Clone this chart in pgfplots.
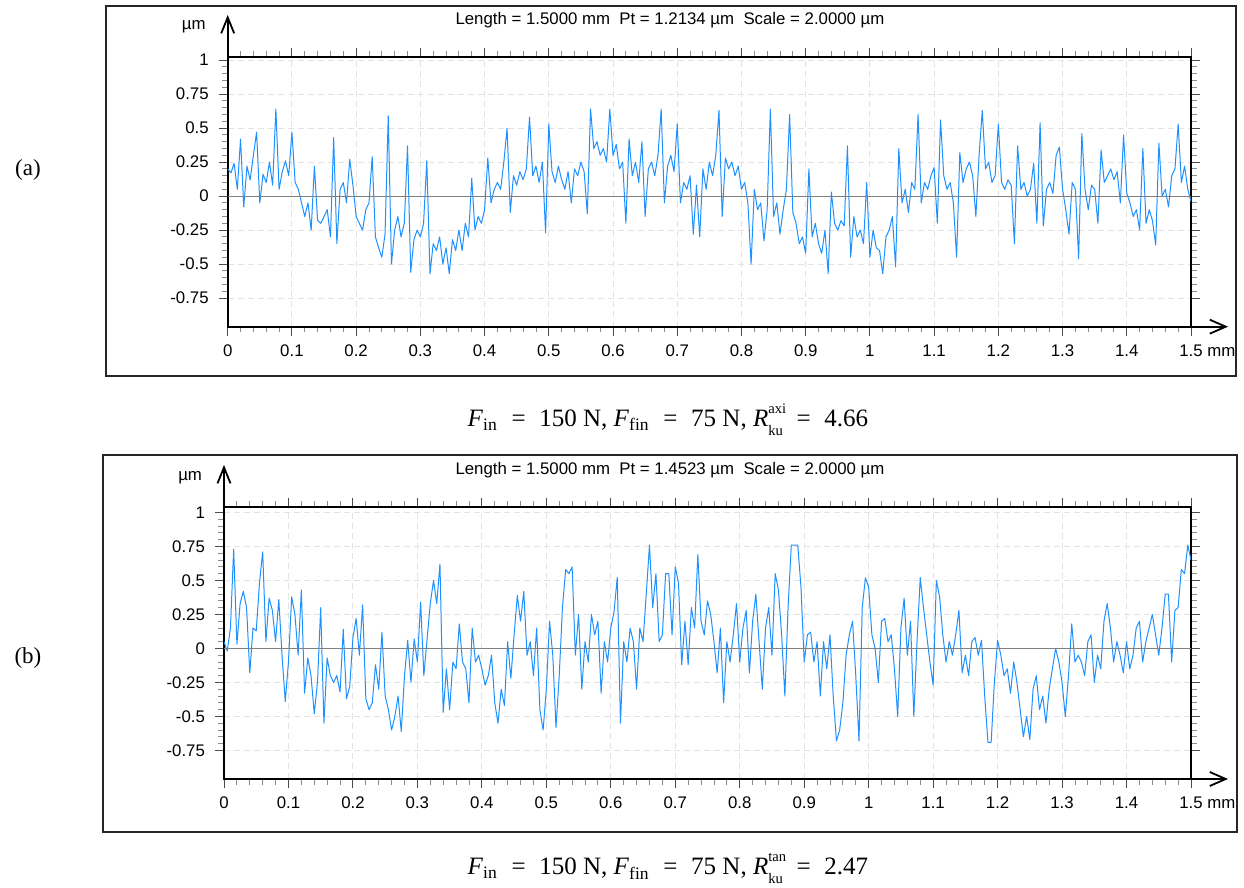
\documentclass[border=0pt]{standalone}
\usepackage{fontspec}
\setmainfont{Liberation Sans}
\newfontfamily\seriffont{Liberation Serif}
\usepackage{pgfplots}
\usepackage{pgfplotstable}
\pgfplotsset{compat=1.18}
\usetikzlibrary{arrows.meta}
\definecolor{profblue}{RGB}{30,144,255}
\newcommand{\eq}{\hspace{0.55em}=\hspace{0.55em}}
\newcommand{\supsub}[2]{\makebox[0pt][l]{\raisebox{0.52em}{\fontsize{7.3}{8}\selectfont #1}}\raisebox{-0.36em}{\fontsize{7.3}{8}\selectfont #2}}

\pgfplotstableread{
x y
0.000 0.20
0.005 0.17
0.010 0.24
0.015 0.05
0.020 0.42
0.025 -0.08
0.030 0.22
0.035 0.12
0.040 0.30
0.045 0.47
0.050 -0.05
0.055 0.16
0.060 0.10
0.065 0.25
0.070 0.08
0.075 0.64
0.080 0.05
0.085 0.18
0.090 0.26
0.095 0.15
0.100 0.47
0.105 0.10
0.110 0.05
0.115 -0.05
0.120 -0.15
0.125 -0.05
0.130 -0.25
0.135 0.22
0.140 -0.18
0.145 -0.20
0.150 -0.15
0.155 -0.10
0.160 -0.30
0.165 0.43
0.170 -0.35
0.175 0.05
0.180 0.10
0.185 -0.05
0.190 0.27
0.195 0.08
0.200 -0.15
0.205 -0.20
0.210 -0.25
0.215 -0.10
0.220 -0.05
0.225 0.29
0.230 -0.30
0.235 -0.38
0.240 -0.45
0.245 -0.28
0.250 0.59
0.255 -0.50
0.260 -0.25
0.265 -0.15
0.270 -0.30
0.275 -0.20
0.280 0.37
0.285 -0.56
0.290 -0.32
0.295 -0.25
0.300 -0.30
0.305 -0.20
0.310 0.26
0.315 -0.57
0.320 -0.35
0.325 -0.40
0.330 -0.30
0.335 -0.50
0.340 -0.38
0.345 -0.57
0.350 -0.32
0.355 -0.40
0.360 -0.25
0.365 -0.40
0.370 -0.20
0.375 -0.30
0.380 0.13
0.385 -0.25
0.390 -0.15
0.395 -0.20
0.400 -0.10
0.405 0.28
0.410 -0.05
0.415 0.05
0.420 0.10
0.425 0.05
0.430 0.25
0.435 0.50
0.440 -0.12
0.445 0.15
0.450 0.08
0.455 0.18
0.460 0.12
0.465 0.20
0.470 0.58
0.475 0.15
0.480 0.22
0.485 0.10
0.490 0.25
0.495 -0.27
0.500 0.53
0.505 0.18
0.510 0.10
0.515 0.22
0.520 0.12
0.525 0.05
0.530 0.18
0.535 -0.05
0.540 0.20
0.545 0.15
0.550 0.25
0.555 0.18
0.560 -0.13
0.565 0.64
0.570 0.35
0.575 0.40
0.580 0.30
0.585 0.35
0.590 0.25
0.595 0.64
0.600 0.30
0.605 0.38
0.610 0.20
0.615 0.25
0.620 -0.20
0.625 0.42
0.630 0.15
0.635 0.25
0.640 0.10
0.645 0.40
0.650 -0.15
0.655 0.20
0.660 0.25
0.665 0.15
0.670 0.30
0.675 0.64
0.680 -0.05
0.685 0.22
0.690 0.30
0.695 0.18
0.700 0.53
0.705 -0.05
0.710 0.10
0.715 0.05
0.720 0.15
0.725 -0.28
0.730 0.08
0.735 -0.30
0.740 0.20
0.745 0.05
0.750 0.25
0.755 0.15
0.760 0.30
0.765 0.63
0.770 -0.15
0.775 0.28
0.780 0.20
0.785 0.25
0.790 0.15
0.795 0.22
0.800 0.05
0.805 0.10
0.810 -0.05
0.815 -0.50
0.820 0.05
0.825 -0.10
0.830 -0.05
0.835 -0.33
0.840 -0.10
0.845 0.64
0.850 -0.15
0.855 -0.05
0.860 -0.28
0.865 -0.10
0.870 0.05
0.875 0.60
0.880 -0.12
0.885 -0.20
0.890 -0.35
0.895 -0.30
0.900 -0.42
0.905 0.20
0.910 -0.30
0.915 -0.20
0.920 -0.35
0.925 -0.42
0.930 -0.25
0.935 -0.57
0.940 0.03
0.945 -0.20
0.950 -0.25
0.955 -0.18
0.960 -0.22
0.965 0.37
0.970 -0.45
0.975 -0.15
0.980 -0.30
0.985 -0.25
0.990 -0.35
0.995 0.10
1.000 -0.45
1.005 -0.25
1.010 -0.38
1.015 -0.40
1.020 -0.57
1.025 -0.30
1.030 -0.25
1.035 -0.15
1.040 -0.52
1.045 0.35
1.050 -0.05
1.055 0.05
1.060 -0.12
1.065 0.10
1.070 0.05
1.075 0.60
1.080 -0.05
1.085 0.10
1.090 0.05
1.095 0.15
1.100 0.21
1.105 -0.20
1.110 0.56
1.115 0.15
1.120 0.05
1.125 0.10
1.130 -0.05
1.135 -0.45
1.140 0.32
1.145 0.10
1.150 0.20
1.155 0.25
1.160 0.15
1.165 -0.15
1.170 0.30
1.175 0.63
1.180 0.20
1.185 0.25
1.190 0.10
1.195 0.15
1.200 0.53
1.205 0.10
1.210 0.05
1.215 0.12
1.220 0.08
1.225 -0.35
1.230 0.37
1.235 0.05
1.240 0.10
1.245 0.00
1.250 0.05
1.255 0.24
1.260 -0.20
1.265 0.54
1.270 -0.22
1.275 0.05
1.280 0.10
1.285 0.02
1.290 0.30
1.295 0.36
1.300 0.05
1.305 -0.10
1.310 -0.28
1.315 0.10
1.320 0.05
1.325 -0.46
1.330 0.46
1.335 0.05
1.340 -0.10
1.345 0.08
1.350 0.05
1.355 -0.20
1.360 0.34
1.365 0.10
1.370 0.15
1.375 0.20
1.380 0.12
1.385 0.18
1.390 -0.05
1.395 0.45
1.400 0.02
1.405 -0.05
1.410 -0.15
1.415 -0.10
1.420 -0.25
1.425 0.35
1.430 -0.20
1.435 -0.10
1.440 -0.18
1.445 -0.36
1.450 0.39
1.455 0.00
1.460 0.05
1.465 -0.08
1.470 0.15
1.475 0.20
1.480 0.53
1.485 0.10
1.490 0.22
1.495 0.05
1.500 -0.04
}\dataA

\pgfplotstableread{
x y
0.000 0.05
0.005 -0.02
0.010 0.15
0.015 0.73
0.020 0.03
0.025 0.33
0.030 0.42
0.035 0.30
0.040 -0.18
0.045 0.15
0.050 0.13
0.055 0.48
0.060 0.71
0.065 0.05
0.070 0.37
0.075 0.28
0.080 0.05
0.085 0.36
0.090 -0.05
0.095 -0.39
0.100 -0.10
0.105 0.38
0.110 0.25
0.115 -0.05
0.120 0.43
0.125 -0.33
0.130 -0.07
0.135 -0.20
0.140 -0.48
0.145 -0.25
0.150 0.30
0.155 -0.55
0.160 -0.07
0.165 -0.20
0.170 -0.25
0.175 -0.20
0.180 -0.32
0.185 0.14
0.190 -0.37
0.195 -0.28
0.200 0.08
0.205 0.22
0.210 -0.05
0.215 0.32
0.220 -0.37
0.225 -0.45
0.230 -0.40
0.235 -0.12
0.240 -0.30
0.245 0.12
0.250 -0.35
0.255 -0.45
0.260 -0.60
0.265 -0.50
0.270 -0.35
0.275 -0.61
0.280 -0.20
0.285 0.06
0.290 -0.25
0.295 0.07
0.300 -0.10
0.305 0.34
0.310 -0.20
0.315 0.07
0.320 0.33
0.325 0.50
0.330 0.33
0.335 0.62
0.340 -0.47
0.345 -0.15
0.350 -0.45
0.355 -0.10
0.360 -0.15
0.365 0.18
0.370 -0.10
0.375 -0.15
0.380 -0.40
0.385 0.15
0.390 -0.10
0.395 -0.05
0.400 -0.15
0.405 -0.27
0.410 -0.20
0.415 -0.05
0.420 -0.40
0.425 -0.55
0.430 -0.30
0.435 -0.42
0.440 0.05
0.445 -0.22
0.450 0.10
0.455 0.39
0.460 0.20
0.465 0.42
0.470 -0.05
0.475 0.05
0.480 -0.20
0.485 0.15
0.490 -0.45
0.495 -0.60
0.500 -0.30
0.505 0.20
0.510 -0.05
0.515 -0.58
0.520 -0.20
0.525 0.30
0.530 0.58
0.535 0.55
0.540 0.60
0.545 -0.05
0.550 0.25
0.555 -0.30
0.560 0.05
0.565 -0.10
0.570 0.25
0.575 0.10
0.580 0.20
0.585 -0.33
0.590 0.05
0.595 -0.10
0.600 0.15
0.605 0.27
0.610 0.52
0.615 -0.55
0.620 0.05
0.625 -0.10
0.630 0.15
0.635 0.05
0.640 -0.30
0.645 0.15
0.650 0.05
0.655 0.40
0.660 0.76
0.665 0.30
0.670 0.55
0.675 0.05
0.680 0.10
0.685 0.55
0.690 0.55
0.695 0.10
0.700 0.60
0.705 0.48
0.710 -0.12
0.715 0.20
0.720 -0.12
0.725 0.30
0.730 0.15
0.735 0.69
0.740 0.20
0.745 0.10
0.750 0.35
0.755 0.25
0.760 0.05
0.765 -0.18
0.770 0.15
0.775 -0.40
0.780 0.05
0.785 -0.10
0.790 0.10
0.795 0.33
0.800 -0.10
0.805 0.15
0.810 0.28
0.815 -0.18
0.820 0.20
0.825 0.40
0.830 0.05
0.835 -0.30
0.840 0.15
0.845 0.30
0.850 -0.05
0.855 0.55
0.860 0.43
0.865 0.10
0.870 -0.35
0.875 0.30
0.880 0.76
0.885 0.76
0.890 0.76
0.895 0.45
0.900 -0.10
0.905 0.10
0.910 0.12
0.915 -0.10
0.920 0.05
0.925 -0.35
0.930 0.05
0.935 -0.15
0.940 0.10
0.945 -0.35
0.950 -0.68
0.955 -0.60
0.960 -0.40
0.965 -0.05
0.970 0.10
0.975 0.20
0.980 -0.20
0.985 -0.68
0.990 0.30
0.995 0.52
1.000 0.45
1.005 0.10
1.010 0.00
1.015 -0.25
1.020 0.20
1.025 0.22
1.030 0.05
1.035 0.10
1.040 -0.15
1.045 -0.50
1.050 0.15
1.055 0.37
1.060 -0.05
1.065 0.20
1.070 -0.50
1.075 0.05
1.080 0.52
1.085 0.30
1.090 0.10
1.095 -0.10
1.100 -0.27
1.105 0.50
1.110 0.38
1.115 0.10
1.120 -0.10
1.125 0.05
1.130 -0.05
1.135 0.10
1.140 0.28
1.145 -0.18
1.150 -0.05
1.155 -0.20
1.160 0.05
1.165 0.08
1.170 -0.05
1.175 0.06
1.180 -0.35
1.185 -0.69
1.190 -0.69
1.195 -0.25
1.200 0.06
1.205 -0.05
1.210 -0.20
1.215 -0.15
1.220 -0.33
1.225 -0.10
1.230 -0.25
1.235 -0.45
1.240 -0.65
1.245 -0.50
1.250 -0.67
1.255 -0.30
1.260 -0.20
1.265 -0.45
1.270 -0.35
1.275 -0.55
1.280 -0.30
1.285 -0.15
1.290 0.00
1.295 -0.10
1.300 -0.25
1.305 -0.50
1.310 -0.20
1.315 0.18
1.320 -0.10
1.325 -0.05
1.330 -0.10
1.335 -0.20
1.340 0.05
1.345 0.10
1.350 -0.25
1.355 -0.05
1.360 -0.15
1.365 0.20
1.370 0.33
1.375 0.15
1.380 -0.10
1.385 0.05
1.390 -0.05
1.395 -0.18
1.400 0.05
1.405 -0.15
1.410 -0.05
1.415 0.15
1.420 0.20
1.425 -0.10
1.430 0.05
1.435 0.15
1.440 0.25
1.445 0.10
1.450 -0.05
1.455 0.15
1.460 0.40
1.465 0.40
1.470 -0.10
1.475 0.28
1.480 0.30
1.485 0.58
1.490 0.55
1.495 0.76
1.500 0.65
}\dataB

\pgfplotsset{profile/.style={
  scale only axis,
  xmin=0, xmax=1.5, ymin=-0.96,
  axis line style={line width=0.9pt, black},
  xtick={0,0.1,0.2,0.3,0.4,0.5,0.6,0.7,0.8,0.9,1,1.1,1.2,1.3,1.4,1.5},
  xticklabels={0,0.1,0.2,0.3,0.4,0.5,0.6,0.7,0.8,0.9,1,1.1,1.2,1.3,1.4,{1.5\rlap{ mm}}},
  ytick={-0.75,-0.5,-0.25,0,0.25,0.5,0.75,1},
  yticklabels={-0.75,-0.5,-0.25,0,0.25,0.5,0.75,1},
  minor x tick num=4, minor y tick num=4,
  tick align=outside, xtick pos=both, ytick pos=both,
  xticklabel pos=left, yticklabel pos=left,
  major tick length=4.5pt, minor tick length=2.8pt,
  every major tick/.append style={black!70, line width=0.5pt},
  every minor tick/.append style={black!45, line width=0.45pt},
  grid=major,
  major grid style={gray!22, line width=0.5pt, dash pattern=on 3pt off 2pt},
  tick label style={font=\fontsize{8.4}{10}\selectfont},
  yticklabel style={xshift=-1.5pt},
  xticklabel style={yshift=-1pt},
}}

\begin{document}
\begin{tikzpicture}
\useasboundingbox (0,0) rectangle (622pt,444pt);

% outer frames
\draw[line width=0.8pt, black!85] (53pt,256pt) rectangle (618pt,441pt);
\draw[line width=0.8pt, black!85] (51.4pt,28pt) rectangle (618.5pt,216.5pt);

% panel labels
\node[font=\seriffont\fontsize{11.5}{13}\selectfont] at (14pt,359pt) {(a)};
\node[font=\seriffont\fontsize{11.5}{13}\selectfont] at (14pt,115pt) {(b)};

% ---------------- panel (a)
\begin{axis}[profile, name=A, at={(113.85pt,280.65pt)}, anchor=south west,
  width=481.65pt, height=135pt, ymax=1.025]
\addplot[profblue, line width=0.5pt, line join=round] table[x=x,y=y] {\dataA};
\addplot[black!50, line width=0.6pt] coordinates {(0,0) (1.5,0)};
\end{axis}
\draw[line width=0.9pt, -{Straight Barb[length=8pt,width=6.5pt]}] (A.north west) -- ++(0,20.85pt);
\draw[line width=0.9pt, -{Straight Barb[length=8pt,width=7pt]}] (A.south east) -- ++(18.5pt,0);
\node[anchor=east, font=\fontsize{8.4}{10}\selectfont] at ([xshift=-7.5pt,yshift=14.85pt]A.north west) {µm};
\node[font=\fontsize{8.4}{10}\selectfont] at ([xshift=221.15pt,yshift=18.35pt]A.north west)
  {Length = 1.5000 mm\ \ Pt = 1.2134 µm\ \ Scale = 2.0000 µm};
\node[anchor=base, font=\seriffont\fontsize{12.5}{14}\selectfont] at (334pt,230.65pt)
  {\textit{F}\textsubscript{in}\eq150 N, \textit{F}\textsubscript{fin}\eq75 N, \textit{R}\supsub{axi}{ku}\eq4.66};

% ---------------- panel (b)
\begin{axis}[profile, name=B, at={(112pt,54.5pt)}, anchor=south west,
  width=483.5pt, height=136pt, ymax=1.04]
\addplot[profblue, line width=0.5pt, line join=round] table[x=x,y=y] {\dataB};
\addplot[black!50, line width=0.6pt] coordinates {(0,0) (1.5,0)};
\end{axis}
\draw[line width=0.9pt, -{Straight Barb[length=8pt,width=6.5pt]}] (B.north west) -- ++(0,21pt);
\draw[line width=0.9pt, -{Straight Barb[length=8pt,width=7pt]}] (B.south east) -- ++(18.5pt,0);
\node[anchor=east, font=\fontsize{8.4}{10}\selectfont] at ([xshift=-7.5pt,yshift=14.85pt]B.north west) {µm};
\node[font=\fontsize{8.4}{10}\selectfont] at ([xshift=223pt,yshift=18.5pt]B.north west)
  {Length = 1.5000 mm\ \ Pt = 1.4523 µm\ \ Scale = 2.0000 µm};
\node[anchor=base, font=\seriffont\fontsize{12.5}{14}\selectfont] at (334pt,6.5pt)
  {\textit{F}\textsubscript{in}\eq150 N, \textit{F}\textsubscript{fin}\eq75 N, \textit{R}\supsub{tan}{ku}\eq2.47};
\end{tikzpicture}
\end{document}
